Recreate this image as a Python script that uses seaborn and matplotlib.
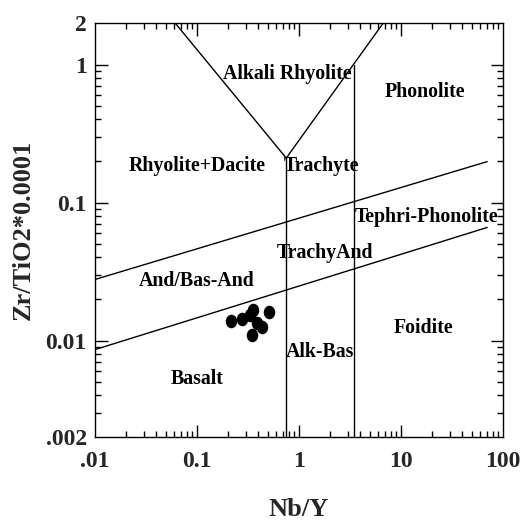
import numpy as np
import pandas as pd
import matplotlib
matplotlib.use("Agg")
import matplotlib.pyplot as plt
import seaborn as sns
from matplotlib.markers import MarkerStyle
from matplotlib.transforms import Affine2D
from matplotlib.ticker import FixedLocator, FixedFormatter, LogLocator, NullFormatter

# Sample compositions (Nb/Y, Zr/TiO2*0.0001)
nb_y = [0.215, 0.278, 0.352, 0.512, 0.385, 0.431, 0.343, 0.33]
zr_ti = [0.0138, 0.0144, 0.0166, 0.0161, 0.0134, 0.0125, 0.0109, 0.0152]

# Classification field boundaries (Winchester & Floyd, 1977)
v_left_x = [0.061, 0.75]
v_left_y = [2.0, 0.21]
v_right_x = [0.75, 6.7]
v_right_y = [0.21, 2.0]
trachyte_split_x = [0.75, 0.75]
trachyte_split_y = [0.21, 0.002]
phonolite_split_x = [3.5, 3.5]
phonolite_split_y = [1.0, 0.002]
upper_slope_x = [0.01, 70]
upper_slope_y = [0.0277, 0.198]
lower_slope_x = [0.01, 70]
lower_slope_y = [0.0086, 0.066]

# Field names and their anchor points
field_names = ["Alkali Rhyolite", "Phonolite", "Rhyolite+Dacite", "Trachyte",
               "Tephri-Phonolite", "TrachyAnd", "And/Bas-And", "Foidite",
               "Alk-Bas", "Basalt"]
field_x = [0.76, 17.2, 0.1, 1.68, 18.0, 1.8, 0.1, 16.8, 1.6, 0.1]
field_y = [0.85, 0.63, 0.185, 0.185, 0.078, 0.043, 0.0268, 0.0124, 0.0083, 0.0053]

x_ticks = [0.01, 0.1, 1, 10, 100]
x_tick_labels = [".01", "0.1", "1", "10", "100"]
y_ticks = [0.002, 0.01, 0.1, 1, 2]
y_tick_labels = [".002", "0.01", "0.1", "1", "2"]

sns.set_theme(style="ticks")
plt.rcParams["font.family"] = ["Liberation Serif", "DejaVu Serif"]
plt.rcParams["font.weight"] = "bold"

fig = plt.figure(figsize=(5.31, 5.22), dpi=100)
ax = fig.add_axes([95 / 531, 1 - 437 / 522, 408 / 531, 414 / 522])

ax.set_xscale("log")
ax.set_yscale("log")
ax.set_xlim(0.01, 100)
ax.set_ylim(0.002, 2)

for xs, ys in [(v_left_x, v_left_y), (v_right_x, v_right_y),
               (trachyte_split_x, trachyte_split_y),
               (phonolite_split_x, phonolite_split_y),
               (upper_slope_x, upper_slope_y), (lower_slope_x, lower_slope_y)]:
    ax.plot(xs, ys, color="black", lw=1.0)

df = pd.DataFrame({"Nb/Y": nb_y, "Zr/TiO2": zr_ti})
oval = MarkerStyle("o", transform=Affine2D().scale(0.85, 1.0))
sns.scatterplot(data=df, x="Nb/Y", y="Zr/TiO2", ax=ax, marker=oval,
                s=95, color="black", edgecolor="black", linewidth=0, zorder=3)

for name, fx, fy in zip(field_names, field_x, field_y):
    ax.text(fx, fy, name, ha="center", va="center", fontsize=14.3,
            fontweight="bold", color="black")

ax.xaxis.set_major_locator(FixedLocator(x_ticks))
ax.xaxis.set_major_formatter(FixedFormatter(x_tick_labels))
ax.yaxis.set_major_locator(FixedLocator(y_ticks))
ax.yaxis.set_major_formatter(FixedFormatter(y_tick_labels))
ax.xaxis.set_minor_locator(LogLocator(base=10, subs=np.arange(2, 10), numticks=20))
ax.yaxis.set_minor_locator(LogLocator(base=10, subs=np.arange(2, 10), numticks=20))
ax.xaxis.set_minor_formatter(NullFormatter())
ax.yaxis.set_minor_formatter(NullFormatter())

ax.tick_params(which="both", direction="in", top=True, right=True,
               color="black", width=1.0)
ax.tick_params(which="major", length=9, labelsize=17)
ax.tick_params(axis="x", which="major", pad=10)
ax.tick_params(axis="y", which="major", pad=6)
ax.tick_params(which="minor", length=4.5)
for lab in ax.get_xticklabels() + ax.get_yticklabels():
    lab.set_fontweight("bold")
# hide the tick marks at the axis limits, where only the label is shown
for t in ax.yaxis.get_major_ticks():
    if t.get_loc() in (0.002, 2):
        t.tick1line.set_visible(False)
        t.tick2line.set_visible(False)
for t in ax.xaxis.get_major_ticks():
    if t.get_loc() in (0.01, 100):
        t.tick1line.set_visible(False)
        t.tick2line.set_visible(False)

for sp in ax.spines.values():
    sp.set_color("black")
    sp.set_linewidth(1.0)

ax.set_xlabel("Nb/Y", fontsize=19, fontweight="bold", labelpad=19)
ax.set_ylabel("Zr/TiO2*0.0001", fontsize=19, fontweight="bold", labelpad=8)

fig.savefig("out.png", dpi=100, facecolor="white")
